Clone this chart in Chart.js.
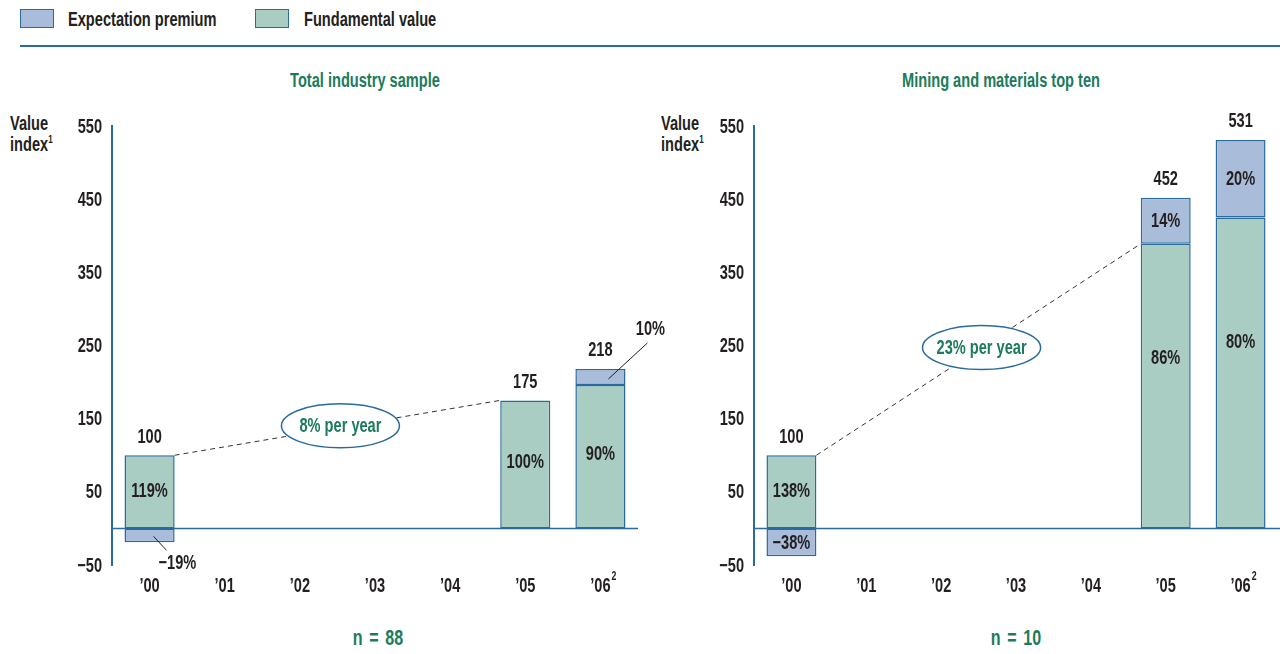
<!DOCTYPE html>
<html lang="en">
<head>
  <meta charset="UTF-8">
  <title>Value index</title>
  <script src="https://cdn.jsdelivr.net/npm/chart.js"></script>
  <style>
    body {
      margin: 0;
      width: 1280px;
      height: 654px;
      position: relative;
      background: #fff;
      overflow: hidden;
      font-family: "Liberation Sans", Arial, sans-serif;
      font-weight: bold;
      color: #231f20;
    }
    .abs { position: absolute; white-space: nowrap; }
    .narrow { transform: scaleX(0.73); transform-origin: left center; }
    .centered { transform: translateX(-50%) scaleX(0.73); transform-origin: center center; }
    .legend-box {
      position: absolute;
      width: 32px;
      height: 17px;
      border: 1.5px solid #2a6b9c;
    }
    .legend-text { font-size: 20px; line-height: 20px; }
    .rule {
      position: absolute;
      left: 20px;
      top: 45px;
      width: 1260px;
      height: 2px;
      background: #2a6b9c;
    }
    .title { color: #1b7b5a; font-size: 20px; line-height: 20px; }
    .ylab { font-size: 20px; line-height: 21px; }
    .ylab sup { font-size: 11px; vertical-align: 8px; line-height: 0; }
    .count { color: #1b7b5a; font-size: 22px; line-height: 22px; word-spacing: 3px; }
    .panel { position: absolute; top: 100px; height: 510px; }
  </style>
</head>
<body>
  <div class="legend-box" style="left:20px; top:9px; background:#a9bcd9;"></div>
  <div class="abs legend-text narrow" style="left:68px; top:9px;">Expectation premium</div>
  <div class="legend-box" style="left:255px; top:9px; background:#a9cdc3;"></div>
  <div class="abs legend-text narrow" style="left:304px; top:9px;">Fundamental value</div>
  <div class="rule"></div>

  <div class="abs title centered" style="left:365px; top:70px;">Total industry sample</div>
  <div class="abs title centered" style="left:1001px; top:70px;">Mining and materials top ten</div>

  <div class="abs ylab narrow" style="left:10px; top:113px;">Value<br>index<sup>1</sup></div>
  <div class="abs ylab narrow" style="left:661px; top:113px;">Value<br>index<sup>1</sup></div>

  <div class="panel" style="left:0; width:680px;"><canvas id="totalChart"></canvas></div>
  <div class="panel" style="left:640px; width:640px;"><canvas id="miningChart"></canvas></div>

  <div class="abs count centered" style="left:378px; top:627px;">n = 88</div>
  <div class="abs count centered" style="left:1016px; top:627px;">n = 10</div>

  <script>
    const years = ["’00", "’01", "’02", "’03", "’04", "’05", "’06²"];
    const growthSpan = [0, 5];

    // Total industry sample
    const totalFundamental = [100, null, null, null, null, 175, 196];
    const totalPremium = [-19, null, null, null, null, null, 22];
    const totalIndex = [100, null, null, null, null, 175, 218];
    const totalFundamentalShare = [119, null, null, null, null, 100, 90];
    const totalPremiumShare = [-19, null, null, null, null, null, 10];
    const totalGrowth = "8% per year";

    // Mining and materials top ten
    const miningFundamental = [100, null, null, null, null, 389, 425];
    const miningPremium = [-38, null, null, null, null, 63, 106];
    const miningIndex = [100, null, null, null, null, 452, 531];
    const miningFundamentalShare = [138, null, null, null, null, 86, 80];
    const miningPremiumShare = [-38, null, null, null, null, 14, 20];
    const miningGrowth = "23% per year";

    const FONT = '"Liberation Sans", Arial, sans-serif';
    const SQUEEZE = 0.73; // condensed look for all chart text
    const INK = "#231f20";
    const GREEN_TEXT = "#1b7b5a";
    const AXIS = "#2a6b9c";
    const PREMIUM_FILL = "#a9bcd9";
    const FUNDAMENTAL_FILL = "#a9cdc3";

    Chart.defaults.font.family = FONT;
    Chart.defaults.font.weight = "bold";
    Chart.defaults.color = INK;

    const minus = s => String(s).replace("-", "\u2212");

    // draw text squeezed horizontally around its anchor
    function narrowText(ctx, text, x, y, align, baseline, size, color) {
      ctx.save();
      ctx.font = "bold " + size + "px " + FONT;
      ctx.fillStyle = color || INK;
      ctx.textAlign = align;
      ctx.textBaseline = baseline;
      ctx.translate(x, y);
      ctx.scale(SQUEEZE, 1);
      ctx.fillText(text, 0, 0);
      const w = ctx.measureText(text).width * SQUEEZE;
      ctx.restore();
      return w;
    }

    function marksPlugin(p) {
      return {
        id: "panelMarks",
        beforeDatasetsDraw(chart) {
          const { ctx, chartArea, scales } = chart;
          const y0 = scales.y.getPixelForValue(0);
          ctx.save();
          ctx.strokeStyle = AXIS;
          ctx.lineWidth = 1.5;
          ctx.beginPath();
          ctx.moveTo(chartArea.left, y0);
          ctx.lineTo(chartArea.right + p.zeroExtra, y0);
          ctx.stroke();
          ctx.restore();
        },
        afterDatasetsDraw(chart) {
          const ctx = chart.ctx;
          const { x: xScale, y: yScale } = chart.scales;
          const area = chart.chartArea;
          const fund = chart.getDatasetMeta(0).data;
          const prem = chart.getDatasetMeta(1).data;

          // axis tick labels
          yScale.ticks.forEach(t => {
            narrowText(ctx, minus(t.value), area.left - 10, yScale.getPixelForValue(t.value) + 1, "right", "middle", 20);
          });
          chart.data.labels.forEach((lab, i) => {
            const x = xScale.getPixelForValue(i);
            const sup = lab.endsWith("²");
            const base = sup ? lab.slice(0, -1) : lab;
            const w = narrowText(ctx, base, x, area.bottom + 11, "center", "top", 20);
            if (sup) narrowText(ctx, "2", x + w / 2 + 1, area.bottom + 6, "left", "top", 12);
          });

          ctx.save();
          // dashed growth line between fundamental values
          const a = fund[growthSpan[0]], b = fund[growthSpan[1]];
          const x1 = a.x + a.width / 2, y1 = a.y;
          const x2 = b.x - b.width / 2, y2 = b.y;
          ctx.strokeStyle = "#333";
          ctx.lineWidth = 1;
          ctx.setLineDash([5, 4]);
          ctx.beginPath();
          ctx.moveTo(x1, y1);
          ctx.lineTo(x2, y2);
          ctx.stroke();
          ctx.setLineDash([]);

          const mx = (x1 + x2) / 2 + 3, my = (y1 + y2) / 2 - 2;
          ctx.font = "bold 20px " + FONT;
          const rw = Math.max(118, ctx.measureText(p.growth).width * SQUEEZE + 28) / 2;
          ctx.beginPath();
          ctx.ellipse(mx, my, rw, 22, 0, 0, Math.PI * 2);
          ctx.fillStyle = "#fff";
          ctx.fill();
          ctx.strokeStyle = AXIS;
          ctx.lineWidth = 1.5;
          ctx.stroke();
          ctx.restore();
          narrowText(ctx, p.growth, mx, my + 1, "center", "middle", 20, GREEN_TEXT);

          // index totals above the bars
          p.index.forEach((v, i) => {
            if (v == null) return;
            narrowText(ctx, String(v), fund[i].x, yScale.getPixelForValue(v) - 8, "center", "bottom", 20);
          });

          // fundamental share inside the green part
          p.fundShare.forEach((v, i) => {
            if (v == null) return;
            const bar = fund[i];
            const top = Math.min(bar.y, bar.base);
            const h = Math.abs(bar.base - bar.y);
            const frac = h > 200 ? 0.4 : 0.48;
            narrowText(ctx, minus(v) + "%", bar.x, top + frac * h + 1, "center", "middle", 20);
          });

          // premium share, with a leader line when the bar is thin
          p.premShare.forEach((v, i) => {
            if (v == null) return;
            const bar = prem[i];
            const h = Math.abs(bar.base - bar.y);
            const mid = (bar.y + bar.base) / 2;
            const text = minus(v) + "%";
            if (h >= 22) {
              narrowText(ctx, text, bar.x, mid + 1, "center", "middle", 20);
              return;
            }
            ctx.save();
            ctx.strokeStyle = INK;
            ctx.lineWidth = 1;
            ctx.beginPath();
            if (v < 0) {
              const ex = bar.x + 17, ey = mid + 15;
              ctx.moveTo(bar.x + 4, mid + 1);
              ctx.lineTo(ex, ey);
              ctx.stroke();
              ctx.restore();
              narrowText(ctx, text, ex - 8, ey + 3, "left", "top", 20);
            } else {
              const ex = bar.x + 47, ey = mid - 34;
              ctx.moveTo(bar.x + 8, mid + 2);
              ctx.lineTo(ex, ey);
              ctx.stroke();
              ctx.restore();
              narrowText(ctx, text, ex + 3, ey - 3, "center", "bottom", 20);
            }
          });
        }
      };
    }

    function makePanel(id, p) {
      return new Chart(document.getElementById(id), {
        type: "bar",
        data: {
          labels: years,
          datasets: [
            {
              label: "Fundamental value",
              data: p.fundamental,
              backgroundColor: FUNDAMENTAL_FILL,
              borderColor: AXIS,
              borderWidth: 1.5,
              borderSkipped: false,
              barPercentage: 0.667,
              categoryPercentage: 1
            },
            {
              label: "Expectation premium",
              data: p.premium,
              backgroundColor: PREMIUM_FILL,
              borderColor: AXIS,
              borderWidth: 1.5,
              borderSkipped: false,
              barPercentage: 0.667,
              categoryPercentage: 1
            }
          ]
        },
        options: {
          responsive: true,
          maintainAspectRatio: false,
          animation: false,
          layout: { padding: { top: 26, right: p.padRight, left: 0, bottom: 0 } },
          plugins: { legend: { display: false }, tooltip: { enabled: false } },
          scales: {
            x: {
              stacked: true,
              grid: { display: false, drawTicks: false },
              border: { display: false },
              ticks: { display: false },
              afterFit: s => { s.height = 45; }
            },
            y: {
              stacked: true,
              min: -50,
              max: 550,
              grid: { display: false, drawTicks: false },
              border: { display: true, color: AXIS, width: 2 },
              ticks: { display: false, stepSize: 100 },
              afterFit: s => { s.width = p.axisWidth; }
            }
          }
        },
        plugins: [marksPlugin(p)]
      });
    }

    makePanel("totalChart", {
      fundamental: totalFundamental,
      premium: totalPremium,
      index: totalIndex,
      fundShare: totalFundamentalShare,
      premShare: totalPremiumShare,
      growth: totalGrowth,
      axisWidth: 112,
      padRight: 42,
      zeroExtra: 0
    });

    makePanel("miningChart", {
      fundamental: miningFundamental,
      premium: miningPremium,
      index: miningIndex,
      fundShare: miningFundamentalShare,
      premShare: miningPremiumShare,
      growth: miningGrowth,
      axisWidth: 114,
      padRight: 2,
      zeroExtra: 2
    });
  </script>
</body>
</html>
